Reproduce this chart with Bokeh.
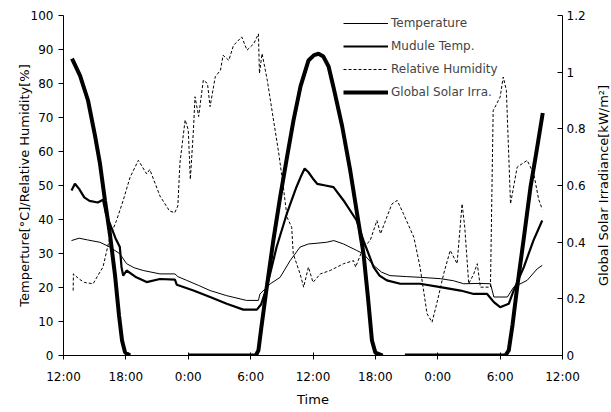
from bokeh.plotting import figure
from bokeh.layouts import row
from bokeh.models import Range1d, LinearAxis, FixedTicker, Legend, LegendItem
from bokeh.embed import file_html
from bokeh.resources import INLINE

nan = float("nan")

# time axis: hours after 12:00 of day 1
tick_hours = [0, 6, 12, 18, 24, 30, 36, 42, 48]
tick_labels = ["12:00", "18:00", "0:00", "6:00", "12:00", "18:00", "0:00", "6:00", "12:00"]
left_ticks = [0, 10, 20, 30, 40, 50, 60, 70, 80, 90, 100]
right_ticks = [0, 0.2, 0.4, 0.6, 0.8, 1.0, 1.2]
right_labels = ["0", "0.2", "0.4", "0.6", "0.8", "1", "1.2"]

temp_t = [0.77, 1.5, 2.3, 3.5, 4.46, 5.42, 6.07, 6.8, 7.67, 9.28, 10.72, 11.0, 11.85, 13.0,
          14.1, 15.7, 17.6, 18.75, 18.9, 19.9, 20.84, 21.8, 22.76, 23.56, 24.3, 25.3, 26.0,
          26.94, 28.2, 28.86, 29.83, 30.6, 31.4, 33.0, 34.3, 36.25, 37.5, 38.5, 40.0, 41.07,
          41.4, 42.7, 43.3, 44.6, 45.57, 46.05]
temp_v = [33.8, 34.5, 34.0, 33.3, 31.9, 29.9, 27.0, 25.8, 25.0, 24.0, 24.0, 23.2, 22.1, 20.6,
          19.1, 17.6, 16.2, 16.2, 18.1, 21.1, 23.0, 27.9, 31.9, 32.8, 33.0, 33.3, 33.8,
          32.8, 30.9, 29.9, 26.5, 24.5, 23.5, 23.2, 23.0, 22.6, 22.0, 21.1, 21.2, 21.1,
          17.2, 17.2, 20.1, 22.1, 25.5, 26.5]

mod_t = [0.77, 1.1, 1.5, 2.0, 2.5, 3.3, 3.8, 4.1, 4.46, 5.0, 5.42, 5.58, 5.74, 6.07, 7.0, 8.0,
         9.28, 10.72, 10.9, 12.5, 14.1, 15.7, 17.3, 18.6, 19.0, 19.56, 20.5, 21.48, 22.4, 22.8,
         23.2, 23.56, 24.0, 24.4, 25.2, 25.97, 26.94, 28.2, 28.86, 29.83, 30.4, 31.1, 32.4,
         34.3, 36.25, 38.2, 39.46, 40.75, 41.4, 42.0, 42.83, 43.3, 44.28, 45.2, 46.05]
mod_v = [48.5, 50.5, 49.0, 46.5, 45.5, 45.0, 45.8, 41.5, 38.8, 34.5, 31.9, 26.0, 23.5, 25.0,
         23.0, 21.6, 22.5, 22.3, 20.8, 19.1, 17.2, 15.2, 13.5, 13.5, 15.0, 20.1, 31.9, 41.7,
         49.5, 52.4, 55.0, 53.9, 52.0, 50.5, 50.0, 49.5, 45.6, 39.7, 33.8, 26.0, 23.5, 22.1,
         21.1, 21.1, 20.1, 19.1, 18.1, 18.1, 15.7, 14.2, 15.2, 19.1, 26.0, 33.8, 39.7]

rh_t = [0.93, 0.95, 1.5, 2.0, 2.85, 3.3, 3.8, 4.46, 5.1, 5.74, 6.4, 7.2, 8.0, 8.3, 9.28, 10.2,
        10.7, 11.0, 11.2, 11.7, 12.0, 12.2, 12.5, 12.65, 13.0, 13.45, 13.85, 14.1, 14.6, 15.1,
        15.35, 15.9, 16.35, 17.15, 17.65, 18.3, 18.75, 18.85, 19.1, 19.6, 20.05, 20.7, 21.15,
        21.5, 21.95, 22.1, 22.76, 23.1, 23.56, 24.0, 24.7, 25.65, 26.94, 27.9, 28.1, 28.86,
        29.5, 30.15, 30.5, 31.1, 31.6, 32.1, 32.7, 33.7, 34.3, 34.97, 35.45, 35.9, 36.57,
        37.2, 37.86, 38.34, 38.6, 38.98, 39.46, 39.8, 40.1, 41.07, 41.33, 42.0, 42.3, 42.6,
        43.0, 43.64, 44.6, 45.24, 45.7, 46.05]
rh_v = [19.1, 24.0, 22.5, 21.5, 21.1, 23.5, 26.0, 34.8, 39.7, 45.6, 52.4, 57.4, 53.4, 54.7,
        46.9, 42.5, 42.0, 44.0, 56.6, 69.3, 66.4, 51.8, 66.4, 76.1, 70.3, 81.0, 80.0, 73.2,
        82.0, 83.9, 88.3, 86.8, 91.2, 93.7, 89.8, 91.7, 94.6, 83.0, 88.8, 81.0, 72.2, 59.6,
        49.5, 40.7, 37.7, 29.9, 24.0, 20.1, 26.0, 21.5, 24.0, 25.0, 27.0, 27.9, 26.0, 31.9,
        33.8, 39.7, 35.8, 40.7, 44.6, 45.6, 41.7, 34.8, 26.0, 12.3, 9.8, 15.2, 24.0, 30.9,
        27.0, 44.6, 37.7, 21.1, 24.0, 27.0, 20.1, 20.1, 72.0, 76.0, 81.9, 78.0, 44.6, 55.4,
        57.4, 53.4, 46.0, 43.0]

irr_t = [0.82, 1.59, 2.36, 3.03, 3.51, 3.99, 4.48, 4.96, 5.34, 5.63, 5.92, 6.4, 6.5,
         12.0, 18.0, 18.5, 18.75, 19.0, 19.55, 20.2, 20.84, 21.5, 22.12, 22.8, 23.56, 24.1,
         24.53, 25.0, 25.5, 25.97, 26.8, 27.58, 28.2, 28.86, 29.3, 29.67, 30.0, 30.7, 30.8,
         32.84, 42.5, 42.83, 43.2, 43.64, 44.3, 44.92, 45.5, 46.1]
irr_v = [1.048, 0.988, 0.900, 0.776, 0.677, 0.547, 0.424, 0.282, 0.141, 0.053, 0.011, 0.0, nan,
         0.0, 0.0, 0.0, 0.018, 0.09, 0.241, 0.41, 0.559, 0.70, 0.829, 0.95, 1.041, 1.06,
         1.065, 1.055, 1.02, 0.947, 0.81, 0.653, 0.51, 0.359, 0.2, 0.053, 0.01, 0.0, nan,
         0.0, 0.0, 0.018, 0.11, 0.241, 0.42, 0.594, 0.72, 0.856]

FONT = "DejaVu Sans"
FS = "12px"
TFS = "13px"
H = 410

p = figure(width=592, height=H, output_backend="svg", toolbar_location=None,
           x_range=Range1d(0, 48), y_range=Range1d(0, 100),
           min_border_left=63, min_border_right=30, min_border_top=15, min_border_bottom=55,
           x_axis_label="Time", y_axis_label="Temperture[°C]/Relative Humidity[%]")
p.extra_y_ranges = {"irr": Range1d(0, 1.2)}
p.outline_line_color = None
p.xgrid.visible = False
p.ygrid.visible = False
p.background_fill_color = "white"
p.border_fill_color = "white"

r_temp = p.line(temp_t, temp_v, line_color="black", line_width=1)
r_mod = p.line(mod_t, mod_v, line_color="black", line_width=2.2)
r_rh = p.line(rh_t, rh_v, line_color="black", line_width=1, line_dash="3 2")
r_irr = p.line(irr_t, irr_v, line_color="black", line_width=4, y_range_name="irr")

xa = p.xaxis[0]
xa.ticker = FixedTicker(ticks=tick_hours)
xa.major_label_overrides = {t: l for t, l in zip(tick_hours, tick_labels)}
xa.major_tick_in = 3
xa.major_tick_out = 4
xa.major_label_standoff = 10
xa.axis_label_standoff = 5

ya = p.yaxis[0]
ya.ticker = FixedTicker(ticks=left_ticks)
ya.major_tick_in = 0
ya.major_tick_out = 5
ya.axis_label_standoff = -4

ra = LinearAxis(y_range_name="irr")
ra.ticker = FixedTicker(ticks=right_ticks)
ra.major_label_overrides = {t: l for t, l in zip(right_ticks, right_labels)}
ra.major_tick_in = 5
ra.major_tick_out = 0
ra.major_label_standoff = 4
p.add_layout(ra, "right")

for ax in [xa, ya, ra]:
    ax.minor_tick_line_color = None
    ax.axis_line_color = "black"
    ax.major_tick_line_color = "black"
    ax.major_label_text_font = FONT
    ax.major_label_text_font_size = FS
    ax.major_label_text_color = "black"
    ax.axis_label_text_font = FONT
    ax.axis_label_text_font_size = TFS
    ax.axis_label_text_font_style = "normal"
    ax.axis_label_text_color = "black"

legend = Legend(items=[
    LegendItem(label="Temperature", renderers=[r_temp]),
    LegendItem(label="Mudule Temp.", renderers=[r_mod]),
    LegendItem(label="Relative Humidity", renderers=[r_rh]),
    LegendItem(label="Global Solar Irra.", renderers=[r_irr]),
], location=(280, 255))
legend.padding = 0
legend.margin = 0
legend.spacing = 7
legend.glyph_width = 45
legend.glyph_height = 16
legend.label_height = 16
legend.label_standoff = 3
legend.label_text_font = FONT
legend.label_text_font_size = FS
legend.border_line_color = None
legend.background_fill_alpha = 0
p.add_layout(legend)

# narrow companion panel that carries the right-hand axis title (reads bottom-to-top)
p2 = figure(width=19, height=H, output_backend="svg", toolbar_location=None,
            x_range=Range1d(0, 1), y_range=Range1d(0, 1), x_axis_location=None,
            min_border_left=0, min_border_right=0, min_border_top=15, min_border_bottom=55,
            y_axis_label="Global Solar Irradiance[kW/m²]")
p2.outline_line_color = None
p2.xgrid.visible = False
p2.ygrid.visible = False
p2.border_fill_color = "white"
ta = p2.yaxis[0]
ta.ticker = FixedTicker(ticks=[])
ta.axis_line_color = None
ta.major_tick_line_color = None
ta.minor_tick_line_color = None
ta.major_label_text_font_size = "0px"
ta.major_label_standoff = 0
ta.major_tick_in = 0
ta.major_tick_out = 0
ta.axis_label_standoff = 0
ta.axis_label_text_font = FONT
ta.axis_label_text_font_size = TFS
ta.axis_label_text_font_style = "normal"
ta.axis_label_text_color = "black"

layout = row(p, p2, spacing=0)
open("out.html", "w").write(file_html(layout, INLINE))
